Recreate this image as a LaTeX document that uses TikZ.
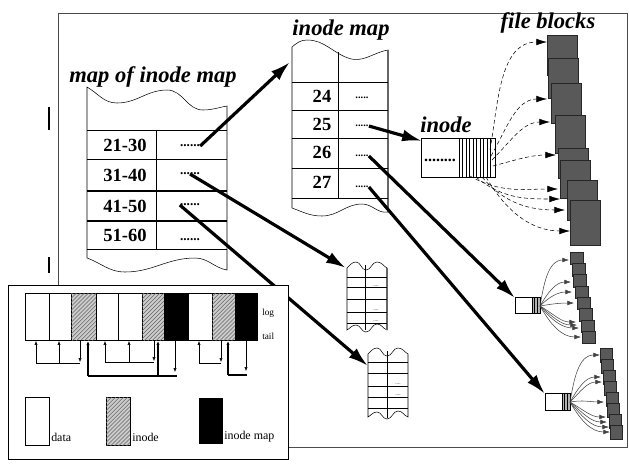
\documentclass[tikz,border=0pt]{standalone}
\usepackage{fontspec}
\setmainfont{Liberation Serif}
\usetikzlibrary{arrows.meta,patterns}

\begin{document}
\begin{tikzpicture}[
  x=0.0265cm, y=-0.0265cm,
  heading/.style={font=\fontsize{17}{20}\selectfont\bfseries\itshape, inner sep=0pt},
  entry/.style={font=\fontsize{14}{16}\selectfont\bfseries, inner sep=0pt},
  ptrdots/.style={font=\fontsize{10}{12}\selectfont\bfseries, inner sep=0pt},
  smalltext/.style={font=\fontsize{9}{10}\selectfont, inner sep=0pt, anchor=west},
  tinydots/.style={font=\fontsize{4}{4}\selectfont, inner sep=0pt},
  bigptr/.style={-{Latex[length=15pt,width=9pt]}, line width=2.4pt},
  blockptr/.style={densely dashed, thin, -{Latex[length=8pt,width=5pt]}},
  tinyptr/.style={thin, black!75, -{Latex[length=5pt,width=3.5pt]}},
  logptr/.style={thin, -{Latex[length=3pt,width=2.5pt]}},
  fileblock/.style={draw=black!85, fill=black!65},
  datacell/.style={draw, fill=white},
  inodecell/.style={draw, fill=gray!40, postaction={pattern=north east lines, pattern color=black!60}},
  imapcell/.style={draw, fill=black}
]
\useasboundingbox (0,0) rectangle (629,465);

% frame and side marks
\draw[black!70] (58,285) -- (58,13) -- (627,13) -- (627,447) -- (288,447);
\draw[line width=0.8pt] (49,107) -- (49,130) (49,257) -- (49,273);

% map of inode map
\node[heading] (mapmaptitle) at (153,77) {map of inode map};
\draw (87,87) to[out=-30,in=180] (117,103) to[out=0,in=180] (167,90) to[out=0,in=180] (203,110) to[out=0,in=190] (227,106)
  -- (227,270) to[out=170,in=0] (195,258) to[out=180,in=0] (125,272) to[out=180,in=-20] (87,258) -- cycle;
\foreach \y in {130,159,249} \draw (87,\y) -- (227,\y);
\foreach \y in {191,221} \draw[line width=0.9pt] (87,\y) -- (227,\y);
\draw (156,130) -- (156,249);
\node[entry] (r2130) at (125,145) {21-30};
\node[entry] (r3140) at (125,175) {31-40};
\node[entry] (r4150) at (125,206) {41-50};
\node[entry] (r5160) at (125,235) {51-60};
\node[ptrdots] (d2130) at (190,146) {......};
\node[ptrdots] (d3140) at (190,174) {......};
\node[ptrdots] (d4150) at (190,205) {......};
\node[ptrdots] (d5160) at (190,240) {......};

% inode map
\node[heading] (imaptitle) at (341,30) {inode map};
\draw (292,47) to[out=40,in=180] (307,40) to[out=0,in=160] (348,58) to[out=-20,in=190] (388,50)
  -- (388,212) to[out=190,in=0] (362,204) to[out=180,in=0] (322,216) to[out=180,in=-20] (292,208) -- cycle;
\draw[line width=1.2pt, black!60] (388,50) -- (388,212);
\foreach \y in {82,110,138,168,198} \draw (292,\y) -- (388,\y);
\draw (338,52) -- (338,198);
\node[entry] (r24) at (322,96) {24};
\node[entry] (r25) at (322,124) {25};
\node[entry] (r26) at (322,152) {26};
\node[entry] (r27) at (322,182) {27};
\node[ptrdots, font=\fontsize{8}{9}\selectfont\bfseries] (d24) at (362,98) {.....};
\node[ptrdots, font=\fontsize{8}{9}\selectfont\bfseries] (d25) at (362,126) {.....};
\node[ptrdots, font=\fontsize{8}{9}\selectfont\bfseries] (d26) at (362,156) {.....};
\node[ptrdots, font=\fontsize{8}{9}\selectfont\bfseries] (d27) at (362,187) {.....};

% inode
\node[heading] (inodetitle) at (446,125) {inode};
\draw (421,138) rectangle (495,177);
\draw (459,138) -- (459,177);
\foreach \x in {462.5,466,...,493} \draw[thin] (\x,138) -- (\x,177);
\node[ptrdots, font=\fontsize{12}{14}\selectfont\bfseries] (inodedots) at (440,160) {........};

% file blocks
\node[heading] (blockstitle) at (548,23) {file blocks};
\foreach \bx/\by/\bh in {547/35/40, 548/58/40, 551/83/40, 555/115/38, 558/148/30, 560/160/38, 567/180/40, 570/200/45}
  \draw[fileblock] (\bx,\by) rectangle ++(30,\bh);
\foreach \sx/\sy/\ex/\ey/\ang in {490/150/547/42/80, 491/156/547/99/60, 492/160/550/122/45, 493/166/556/155/15,
    470/176/558/189/-30, 476/177/560/199/-40, 482/177/565/210/-50, 486/177/570/231/-60}
  \draw[blockptr] (\sx,\sy) to[out=\ang,in=180] (\ex,\ey);

% inode map fragments
\draw (347,268) to[out=40,in=180] (356,262) to[out=0,in=180] (366,270) to[out=0,in=180] (377,262) to[out=0,in=150] (387,268)
  -- (387,330) to[out=160,in=0] (377,324) to[out=180,in=0] (366,332) to[out=180,in=0] (356,325) to[out=180,in=30] (347,330) -- cycle;
\draw[line width=1pt, black!60] (387,268) -- (387,330);
\foreach \y in {277,287,299,312,323} \draw (347,\y) -- (387,\y);
\draw (365,265) -- (365,330);
\foreach \y in {288,312,323} \node[tinydots] at (376,\y-2) {....};
\draw (368,354) to[out=40,in=180] (377,348) to[out=0,in=180] (387,356) to[out=0,in=180] (398,348) to[out=0,in=150] (408,354)
  -- (408,417) to[out=160,in=0] (398,411) to[out=180,in=0] (387,419) to[out=180,in=0] (377,412) to[out=180,in=30] (368,417) -- cycle;
\foreach \y in {362,373,386,397,408} \draw (368,\y) -- (408,\y);
\draw (387,351) -- (387,418);
\foreach \y in {386,397} \node[tinydots] at (398,\y-2) {....};

% small inodes with their blocks
\draw (515,297) rectangle (532,313);
\draw[fill=gray!60] (532,297) rectangle (540,313);
\draw[line width=0.8pt] (534.5,297) -- (534.5,313) (537.5,297) -- (537.5,313);
\foreach \i in {0,...,7} \draw[fileblock] (570+\i*1.8,252+\i*11.3) rectangle ++(13,12.5);
\foreach \ex/\ey/\ang in {569/260/80, 571/282/60, 572/292/45, 574/303/10, 576/322/-30, 577/325/-40, 579/328/-50, 581/337/-60}
  \draw[tinyptr] (540,306) to[out=\ang,in=180] (\ex,\ey);
\draw (545,393) rectangle (562,410);
\draw[fill=gray!60] (562,393) rectangle (570,410);
\draw[line width=0.8pt] (564.5,393) -- (564.5,410) (567.5,393) -- (567.5,410);
\foreach \i in {0,...,7} \draw[fileblock] (600+\i*1.5,348+\i*11) rectangle ++(12,14);
\foreach \ex/\ey/\ang in {600/355/80, 601/377/60, 602/382/45, 604/402/10, 606/417/-30, 607/422/-40, 609/427/-50, 610/432/-60}
  \draw[tinyptr] (570,402) to[out=\ang,in=180] (\ex,\ey);

% big pointers
\coordinate (imaptop) at (290,62);
\coordinate (frag1) at (346,268);
\coordinate (frag2) at (368,366);
\coordinate (inodebox) at (422,141);
\coordinate (sinode1) at (515,298);
\coordinate (sinode2) at (545,394);
\draw[bigptr] (d2130.east) -- (imaptop);
\draw[bigptr] (d3140.center) -- (frag1);
\draw[bigptr] (d4150.west) -- (frag2);
\draw[bigptr] (d25.east) -- (inodebox);
\draw[bigptr] (d26.east) -- (sinode1);
\draw[bigptr] (d27.east) -- (sinode2);

% log inset
\draw[fill=white] (8,285) rectangle (288,459);
\foreach \xa/\xb/\kind in {25/49/datacell, 49/71/datacell, 71/96/inodecell, 96/118/datacell, 118/142/datacell,
    142/164/inodecell, 164/188/imapcell, 188/212/datacell, 212/235/inodecell, 235/257/imapcell}
  \draw[\kind] (\xa,293) rectangle (\xb,340);
\node[smalltext, font=\fontsize{7}{8}\selectfont] (loglabel) at (262,313) {log};
\node[smalltext, font=\fontsize{7}{8}\selectfont] (taillabel) at (262,336) {tail};
\draw[logptr] (80,340) -- (80,362);
\draw (36,363) -- (80,363);
\draw[logptr] (36,363) -- (36,341);
\draw[logptr] (59,363) -- (59,341);
\draw[logptr] (154,340) -- (154,361);
\draw (105,362) -- (154,362);
\draw[logptr] (105,362) -- (105,341);
\draw[logptr] (129,362) -- (129,341);
\draw[logptr] (221,340) -- (221,362);
\draw (199,363) -- (221,363);
\draw[logptr] (199,363) -- (199,341);
\draw[line width=1pt] (88,376) -- (177,376);
\draw[logptr, line width=1pt] (88,376) -- (88,341);
\draw[logptr, line width=1pt] (158,376) -- (158,341);
\draw[logptr] (175,340) -- (175,372);
\draw[line width=1pt] (228,375) -- (247,375);
\draw[logptr, line width=1pt] (228,375) -- (228,341);
\draw[logptr] (246,340) -- (246,371);
% legend
\draw[datacell] (25,397) rectangle (49,445);
\draw[inodecell] (106,397) rectangle (130,445);
\draw[imapcell] (199,398) rectangle (222,443);
\node[smalltext] (datalabel) at (51,437) {data};
\node[smalltext] (inodelabel) at (132,437) {inode};
\node[smalltext] (imaplabel) at (224,437) {inode map};
\end{tikzpicture}
\end{document}
